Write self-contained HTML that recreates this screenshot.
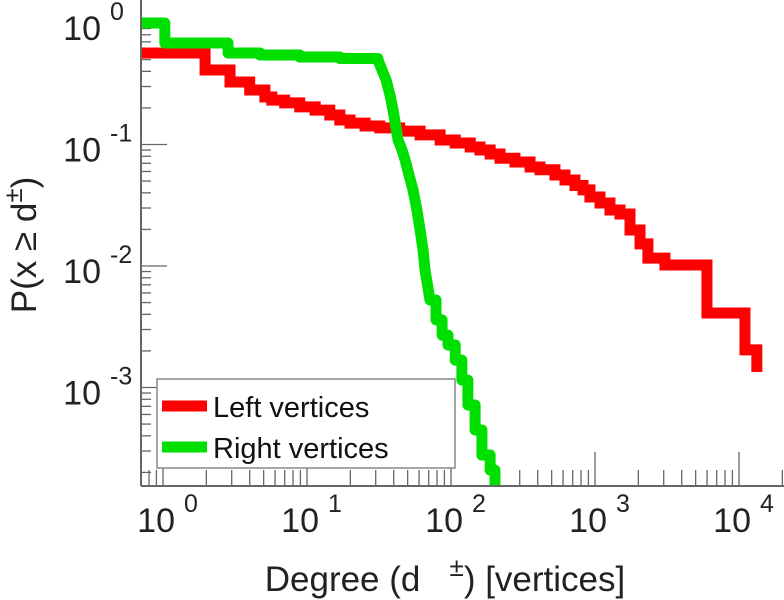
<!DOCTYPE html>
<html><head><meta charset="utf-8"><style>
html,body{margin:0;padding:0;background:#fff;}
svg{display:block;font-family:"Liberation Sans",sans-serif;}
</style></head><body>
<svg id="chart" width="784" height="600" viewBox="0 0 784 600" xmlns="http://www.w3.org/2000/svg">
<defs><clipPath id="plotclip"><rect x="141" y="0" width="643" height="486"/></clipPath></defs>
<g id="grid"></g>
<g id="series" clip-path="url(#plotclip)"></g>
<line x1="141" y1="0" x2="141" y2="486" stroke="#666" stroke-width="2"/>
<line x1="141" y1="486" x2="784" y2="486" stroke="#666" stroke-width="2"/>
<g id="labels"></g>
<text transform="translate(36,245) rotate(-90)" text-anchor="middle" font-size="35" fill="#222">P(x ≥ d<tspan dy="-14" font-size="26">±</tspan><tspan dy="14">)</tspan></text>
<text x="445" y="591" text-anchor="middle" font-size="35" fill="#222" xml:space="preserve">Degree (d   <tspan dy="-15" font-size="26">±</tspan><tspan dy="15">) [vertices]</tspan></text>
<g>
<rect x="157" y="379" width="298" height="89" fill="#fff" stroke="#888" stroke-width="1.5"/>
<line x1="162" y1="406" x2="207" y2="406" stroke="#ff0000" stroke-width="11"/>
<text x="213" y="417" font-size="29" fill="#111">Left vertices</text>
<line x1="162" y1="447" x2="207" y2="447" stroke="#00e000" stroke-width="11"/>
<text x="213" y="458" font-size="29" fill="#111">Right vertices</text>
</g>
</svg>
<script>
const leftDeg = [0.70,1.96,2.92,4.0,5.1,5.7,7.0,8.9,11.4,14.4,16.9,19.9,25.3,32,44,61,84,107,136,159,187,219,278,354,415,527,619,726,826,922,1083,1270,1492,1750,2055,2330,3060,5990,11000,13300];
const leftP = [0.566,0.41,0.327,0.281,0.246,0.232,0.22,0.204,0.192,0.175,0.159,0.150,0.142,0.137,0.129,0.120,0.109,0.103,0.0953,0.090,0.0835,0.077,0.0718,0.0653,0.062,0.0561,0.051,0.046,0.0423,0.037,0.033,0.0289,0.0268,0.0198,0.0152,0.0116,0.0102,0.0041,0.00204,0.00134];
const rightDeg = [0.70,1.03,2.83,4.72,8.9,16.9,31.1,33.2,35.4,37.7,39.6,42.9,45.7,48,51.1,54.5,58,61,64,66,71.5,78.7,86.7,95.3,107,119,131,147,164,187,202];
const rightP = [1,0.684,0.567,0.545,0.525,0.51,0.496,0.41,0.34,0.255,0.192,0.109,0.0901,0.0745,0.0561,0.0423,0.0289,0.0198,0.0135,0.00927,0.00525,0.0036,0.0027,0.00224,0.00168,0.00115,0.000718,0.000447,0.000278,0.000209,0.000155];
const xTickExp = [0,1,2,3,4];
const yTickExp = [0,-1,-2,-3];

const NS="http://www.w3.org/2000/svg";
function sx(v){return 163+144*Math.log10(v);}
function sy(v){return 23-121.5*Math.log10(v);}
function mk(tag,attrs,parent){const e=document.createElementNS(NS,tag);for(const k in attrs)e.setAttribute(k,attrs[k]);parent.appendChild(e);return e;}

const grid=document.getElementById('grid');
const labels=document.getElementById('labels');
for(let e=1;e>=-4;e--){
  for(let m=1;m<10;m++){
    const v=m*Math.pow(10,e);const y=sy(v);
    if(y<0||y>486)continue;
    const t=mk('line',{x1:141,x2:141+(m===1?26:10),y1:y,y2:y,stroke:'#666','stroke-width':1.3},grid);
    
    
  }
}
for(let e=-1;e<=4;e++){
  for(let m=1;m<10;m++){
    const v=m*Math.pow(10,e);const x=sx(v);
    if(x<141||x>784)continue;
    const t=mk('line',{x1:x,x2:x,y1:486,y2:486-(m===1?34:16),stroke:'#666','stroke-width':1.3},grid);
    
    
  }
}
yTickExp.forEach(e=>{
  const y=sy(Math.pow(10,e));
  const t=mk('text',{x:101,y:y+17,'text-anchor':'end','font-size':34,fill:'#222'},labels);
  
  
  t.textContent='10';
  const s=mk('text',{x:110,y:y-3,'font-size':25,fill:'#222'},labels);
  
  
  s.textContent=String(e);
});
xTickExp.forEach(e=>{
  const x=sx(Math.pow(10,e));
  const t=mk('text',{x:x+12,y:532,'text-anchor':'end','font-size':34,fill:'#222'},labels);
  
  
  t.textContent='10';
  const s=mk('text',{x:x+21,y:512,'font-size':25,fill:'#222'},labels);
  
  
  s.textContent=String(e);
});
function stepPath(xs,ps,stepUntil,stepFrom){
  let d='M'+sx(xs[0])+','+sy(ps[0]);
  for(let i=1;i<xs.length;i++){
    if(i<=stepUntil||i>=stepFrom){d+=' H'+sx(xs[i])+' V'+sy(ps[i]);}
    else{d+=' L'+sx(xs[i])+','+sy(ps[i]);}
  }
  return d;
}
const series=document.getElementById('series');
const r=mk('path',{d:stepPath(leftDeg,leftP,1e9,0),fill:'none',stroke:'#ff0000','stroke-width':11,'stroke-linejoin':'miter'},series);


const g=mk('path',{d:stepPath(rightDeg,rightP,6,21)+' V600',fill:'none',stroke:'#00e000','stroke-width':11,'stroke-linejoin':'round'},series);


</script>
</body></html>
